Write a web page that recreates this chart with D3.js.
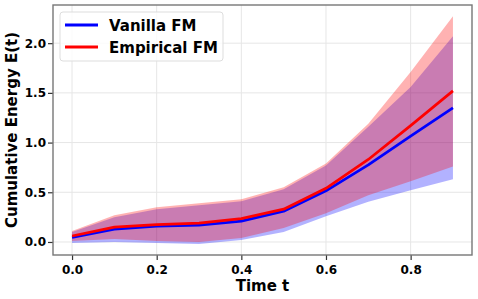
<!DOCTYPE html>
<html>
<head>
<meta charset="utf-8">
<script src="https://cdn.jsdelivr.net/npm/d3@7"></script>
<style>
  body { margin: 0; background: #fff; }
  text { font-family: "DejaVu Sans", sans-serif; font-weight: bold; }
</style>
</head>
<body>
<script>
const w = 478;
const h = 299;
const margin = { top: 5, right: 6, bottom: 44, left: 53 };

// data
const times = [0, 0.1, 0.2, 0.3, 0.4, 0.5, 0.6, 0.7, 0.8, 0.9];
const vanillaMean = [0.045, 0.13, 0.16, 0.17, 0.21, 0.31, 0.515, 0.775, 1.065, 1.35];
const vanillaLower = [-0.01, 0.0, -0.01, -0.02, 0.02, 0.1, 0.26, 0.405, 0.52, 0.63];
const vanillaUpper = [0.1, 0.25, 0.33, 0.37, 0.41, 0.53, 0.77, 1.16, 1.56, 2.07];
const empiricalMean = [0.06, 0.15, 0.175, 0.19, 0.235, 0.33, 0.54, 0.83, 1.17, 1.52];
const empiricalLower = [0.01, 0.03, 0.01, 0.0, 0.04, 0.14, 0.29, 0.47, 0.61, 0.76];
const empiricalUpper = [0.11, 0.27, 0.35, 0.39, 0.43, 0.55, 0.79, 1.19, 1.71, 2.27];
const xTicks = [0, 0.2, 0.4, 0.6, 0.8];
const yTicks = [0, 0.5, 1.0, 1.5, 2.0];
const seriesNames = ["Vanilla FM", "Empirical FM"];
const seriesColors = ["#0000ff", "#ff0000"];

const svg = d3
  .select("body")
  .append("svg")
  .attr("width", w)
  .attr("height", h);

const xScale = d3
  .scaleLinear()
  .domain([-0.045, 0.945])
  .range([margin.left, w - margin.right]);
const yScale = d3
  .scaleLinear()
  .domain([-0.131, 2.384])
  .range([h - margin.bottom, margin.top]);

// grid
svg
  .append("g")
  .selectAll("line")
  .data(xTicks)
  .enter()
  .append("line")
  .attr("x1", d => xScale(d))
  .attr("x2", d => xScale(d))
  .attr("y1", margin.top)
  .attr("y2", h - margin.bottom)
  .style("stroke", "#e6e6e6")
  .style("stroke-width", 1);
svg
  .append("g")
  .selectAll("line")
  .data(yTicks)
  .enter()
  .append("line")
  .attr("x1", margin.left)
  .attr("x2", w - margin.right)
  .attr("y1", d => yScale(d))
  .attr("y2", d => yScale(d))
  .style("stroke", "#e6e6e6")
  .style("stroke-width", 1);

// bands
const series = [
  { mean: vanillaMean, lower: vanillaLower, upper: vanillaUpper },
  { mean: empiricalMean, lower: empiricalLower, upper: empiricalUpper }
];

const area = d3
  .area()
  .x(d => xScale(d.t))
  .y0(d => yScale(d.lo))
  .y1(d => yScale(d.hi));

series.forEach((s, k) => {
  const pts = times.map((t, i) => ({ t: t, lo: s.lower[i], hi: s.upper[i] }));
  svg
    .append("path")
    .datum(pts)
    .attr("d", area)
    .style("fill", seriesColors[k])
    .style("fill-opacity", 0.3);
});

const line = d3
  .line()
  .x(d => xScale(d.t))
  .y(d => yScale(d.v));

series.forEach((s, k) => {
  svg
    .append("path")
    .datum(times.map((t, i) => ({ t: t, v: s.mean[i] })))
    .attr("d", line)
    .style("fill", "none")
    .style("stroke", seriesColors[k])
    .style("stroke-width", 2.7)
    .style("stroke-linejoin", "round");
});

// axes
const xAxis = d3.axisBottom(xScale).tickValues(xTicks).tickFormat(d3.format(".1f")).tickSize(5).tickSizeOuter(0);
const yAxis = d3.axisLeft(yScale).tickValues(yTicks).tickFormat(d3.format(".1f")).tickSize(5).tickSizeOuter(0);

const gx = svg
  .append("g")
  .attr("transform", "translate(0," + (h - margin.bottom) + ")")
  .call(xAxis);
const gy = svg
  .append("g")
  .attr("transform", "translate(" + margin.left + ",0)")
  .call(yAxis);

[gx, gy].forEach(g => {
  g.select(".domain").remove();
  g.selectAll(".tick line").style("stroke", "#333").style("stroke-width", 1.2);
  g.selectAll(".tick text")
    .style("font-size", "12px")
    .style("font-weight", "bold")
    .style("fill", "#000");
});
gx.selectAll(".tick text").attr("y", 19).attr("dy", 0);
gy.selectAll(".tick text").attr("x", -7);

// spines
svg
  .append("rect")
  .attr("x", margin.left)
  .attr("y", margin.top)
  .attr("width", w - margin.left - margin.right)
  .attr("height", h - margin.top - margin.bottom)
  .style("fill", "none")
  .style("stroke", "#777")
  .style("stroke-width", 1.4);

// axis labels
svg
  .append("text")
  .attr("x", (margin.left + w - margin.right) / 2)
  .attr("y", 291)
  .style("text-anchor", "middle")
  .style("font-size", "15px")
  .text("Time t");

svg
  .append("text")
  .attr("transform", "translate(17," + (margin.top + h - margin.bottom) / 2 + ") rotate(-90)")
  .style("text-anchor", "middle")
  .style("font-size", "15px")
  .text("Cumulative Energy E(t)");

// legend
const legend = svg.append("g").attr("transform", "translate(60,12)");
legend
  .append("rect")
  .attr("width", 163)
  .attr("height", 49)
  .attr("rx", 3)
  .style("fill", "#fff")
  .style("fill-opacity", 0.8)
  .style("stroke", "#ddd");
legend
  .selectAll("line")
  .data(seriesColors)
  .enter()
  .append("line")
  .attr("x1", 5)
  .attr("x2", 38)
  .attr("y1", (d, i) => 13 + i * 22)
  .attr("y2", (d, i) => 13 + i * 22)
  .style("stroke", d => d)
  .style("stroke-width", 3);
legend
  .selectAll("text")
  .data(seriesNames)
  .enter()
  .append("text")
  .attr("x", 49)
  .attr("y", (d, i) => 19 + i * 22)
  .style("font-size", "15px")
  .text(d => d);
</script>
</body>
</html>
